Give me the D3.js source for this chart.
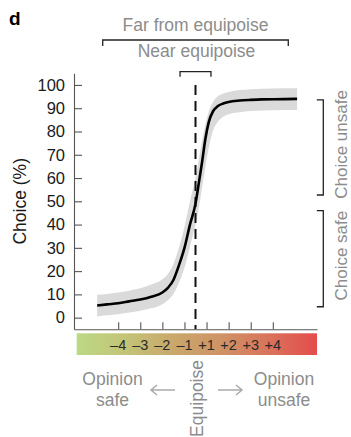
<!DOCTYPE html>
<html>
<head>
<meta charset="utf-8">
<script src="https://cdn.jsdelivr.net/npm/d3@7"></script>
<style>
  body { margin: 0; background: #fff; }
  text { font-family: "Liberation Sans", Arial, Helvetica, sans-serif; }
</style>
</head>
<body>
<div class="wrap"></div>
<script>
// opinion position (0 = equipoise) and choice (%)
const opinion = [-4.45, -4, -3.5, -3, -2.5, -2, -1.5, -1.25, -1, -0.75, -0.5, -0.25, 0, 0.15, 0.3, 0.45, 0.6, 0.8, 1, 1.25, 1.5, 2, 2.5, 3, 4, 4.6]
const choiceMean = [5.2, 5.7, 6.2, 7.0, 7.8, 9.0, 10.8, 12.8, 16.2, 22.5, 30, 40, 49, 57.8, 67, 77, 84, 88.8, 90.8, 92, 92.7, 93.3, 93.6, 93.8, 93.9, 94]
const choiceUpper = [9.8, 10.2, 10.8, 11.6, 12.6, 14.2, 16.5, 18.8, 23, 30, 39, 50, 60, 68, 76, 83, 88.5, 92.8, 95, 96.3, 97, 97.8, 98.2, 98.4, 98.6, 98.6]
const choiceLower = [0.5, 1, 1.5, 2.2, 3, 4, 5.8, 7.5, 10.2, 15, 21.5, 30.5, 40, 47, 56, 65, 73, 80.5, 84, 86.3, 87.4, 88.3, 88.8, 89, 89.2, 89.2]

const yTicks = [0, 10, 20, 30, 40, 50, 60, 70, 80, 90, 100]
const xTicks = [-3.5, -2.5, -1.5, -0.5, 0.5, 1.5, 2.5, 3.5]
const xTickLabels = ['\u20134', '\u20133', '\u20132', '\u20131', '+1', '+2', '+3', '+4']

const farRange = [-4.2, 4.2]
const nearRange = [-0.7, 0.7]
const unsafeRange = [52.7, 93.6]
const safeRange = [4.7, 46]

const gradColors = ['#bcd985', '#c3c477', '#c9a86b', '#cf9365', '#d9735b', '#e44c4c']

const data = opinion.map((o, i) => ({x: o, m: choiceMean[i], lo: choiceLower[i], hi: choiceUpper[i]}))

const width = 351
const height = 437
const grey = '#8c8c8c'

var svg = d3.select('.wrap').append('svg').attr('width', width).attr('height', height)

var xscale = d3.scaleLinear().domain([-5.5, 5.5]).range([74, 317])
var yscale = d3.scaleLinear().domain([-5, 105]).range([329.3, 73.3])

// band + mean curve
var area = d3.area()
    .x(d => xscale(d.x))
    .y0(d => yscale(d.lo))
    .y1(d => yscale(d.hi))
    .curve(d3.curveMonotoneX)

var line = d3.line()
    .x(d => xscale(d.x))
    .y(d => yscale(d.m))
    .curve(d3.curveMonotoneX)

svg.append('path').datum(data).attr('d', area).attr('fill', '#dadada')

// equipoise dashed line
svg.append('line')
    .attr('x1', xscale(0)).attr('x2', xscale(0))
    .attr('y1', yscale(100)).attr('y2', yscale(-5))
    .attr('stroke', '#111').attr('stroke-width', 2).attr('stroke-dasharray', '10,6')

svg.append('path').datum(data).attr('d', line)
    .attr('fill', 'none').attr('stroke', '#000').attr('stroke-width', 2.6)

// axes
var yaxis = d3.axisLeft(yscale).tickValues(yTicks).tickSize(-8).tickSizeOuter(0).tickPadding(9)
var gy = svg.append('g').attr('transform', `translate(${xscale(-5.5)},0)`).call(yaxis)
gy.selectAll('text').attr('font-size', 16.5).attr('fill', '#1a1a1a')
    .style('font-family', '"Liberation Sans", Arial, sans-serif')

var xaxis = d3.axisBottom(xscale).tickValues(xTicks).tickSize(-7).tickSizeOuter(0).tickFormat('')
var gx = svg.append('g').attr('transform', `translate(0,${yscale(-5)})`).call(xaxis)

svg.selectAll('.domain, .tick line').attr('stroke', '#555').attr('stroke-width', 1.1)

svg.append('text')
    .attr('transform', `translate(26,${yscale(50)}) rotate(-90)`)
    .attr('text-anchor', 'middle').attr('font-size', 17.5).attr('fill', '#1a1a1a')
    .text('Choice (%)')

// colour bar
var grad = svg.append('defs').append('linearGradient').attr('id', 'opgrad')
gradColors.forEach((c, i) => {
    grad.append('stop').attr('offset', i / (gradColors.length - 1)).attr('stop-color', c)
})
svg.append('rect')
    .attr('x', xscale(-5.38)).attr('y', 333.3)
    .attr('width', xscale(5.5) - xscale(-5.38)).attr('height', 21.7)
    .attr('fill', 'url(#opgrad)')

svg.selectAll('.cblab').data(xTicks).enter().append('text')
    .attr('class', 'cblab')
    .attr('x', d => xscale(d)).attr('y', 349.5)
    .attr('text-anchor', 'middle').attr('font-size', 14.5).attr('fill', '#2a2a2a')
    .text((d, i) => xTickLabels[i])

// top brackets
function hbracket(r, y, tick) {
    svg.append('path')
        .attr('d', `M${xscale(r[0])},${y + tick}V${y}H${xscale(r[1])}V${y + tick}`)
        .attr('fill', 'none').attr('stroke', '#222').attr('stroke-width', 1.3)
}
hbracket(farRange, 40, 6)
hbracket(nearRange, 71.7, 5)

svg.append('text').attr('x', xscale(0)).attr('y', 31)
    .attr('text-anchor', 'middle').attr('font-size', 17.5).attr('fill', grey)
    .text('Far from equipoise')
svg.append('text').attr('x', xscale(0) + 1).attr('y', 56.5)
    .attr('text-anchor', 'middle').attr('font-size', 17.5).attr('fill', grey)
    .text('Near equipoise')

// right brackets
function vbracket(r, label) {
    var x = 323.3
    svg.append('path')
        .attr('d', `M${x - 6.5},${yscale(r[1])}H${x}V${yscale(r[0])}H${x - 6.5}`)
        .attr('fill', 'none').attr('stroke', '#222').attr('stroke-width', 1.3)
    svg.append('text')
        .attr('transform', `translate(346.5,${yscale((r[0] + r[1]) / 2) - 3}) rotate(-90)`)
        .attr('text-anchor', 'middle').attr('font-size', 17).attr('fill', grey)
        .text(label)
}
vbracket(unsafeRange, 'Choice unsafe')
vbracket(safeRange, 'Choice safe')

// bottom labels
svg.append('text').attr('x', 112.5).attr('y', 385)
    .attr('text-anchor', 'middle').attr('font-size', 17.5).attr('fill', grey).text('Opinion')
svg.append('text').attr('x', 112.5).attr('y', 405.5)
    .attr('text-anchor', 'middle').attr('font-size', 17.5).attr('fill', grey).text('safe')
svg.append('text').attr('x', 284).attr('y', 385)
    .attr('text-anchor', 'middle').attr('font-size', 17.5).attr('fill', grey).text('Opinion')
svg.append('text').attr('x', 284).attr('y', 405.5)
    .attr('text-anchor', 'middle').attr('font-size', 17.5).attr('fill', grey).text('unsafe')

svg.append('text')
    .attr('transform', `translate(${xscale(0) + 7},360) rotate(-90)`)
    .attr('text-anchor', 'end').attr('font-size', 17.5).attr('fill', grey)
    .text('Equipoise')

// arrows
svg.append('path').attr('d', 'M175,390H151M157,385L151,390L157,395')
    .attr('fill', 'none').attr('stroke', '#aaa').attr('stroke-width', 1.5)
svg.append('path').attr('d', 'M218,390H242M236,385L242,390L236,395')
    .attr('fill', 'none').attr('stroke', '#aaa').attr('stroke-width', 1.5)

svg.append('text').attr('x', 9).attr('y', 24.5)
    .attr('font-size', 19).attr('font-weight', 'bold').attr('fill', '#000').text('d')
</script>
</body>
</html>
